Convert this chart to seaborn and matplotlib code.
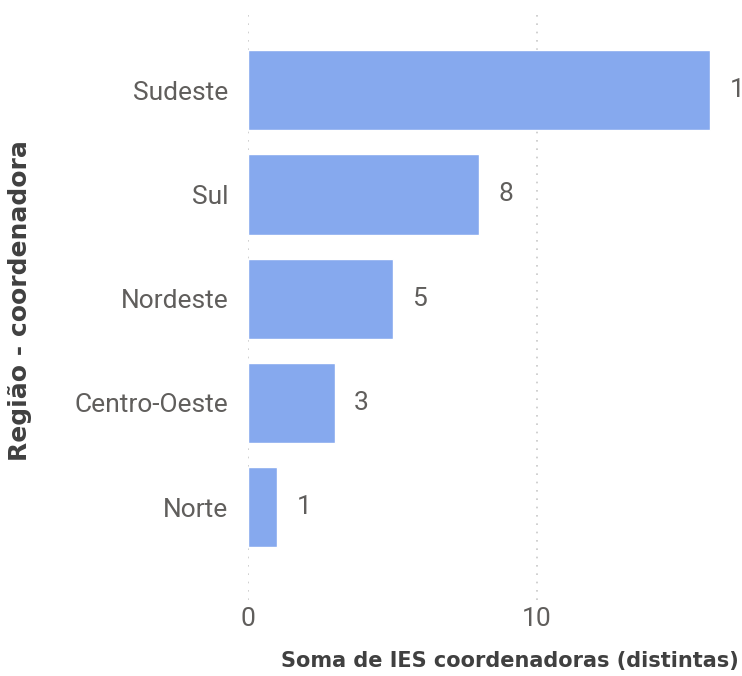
import pandas as pd
import seaborn as sns
import matplotlib.pyplot as plt

regioes = ["Sudeste", "Sul", "Nordeste", "Centro-Oeste", "Norte"]
qtd_ies = [16, 8, 5, 3, 1]

df = pd.DataFrame({"regiao": regioes, "ies": qtd_ies})

sns.set_style("white")
plt.rcParams['font.family'] = ['Roboto', 'DejaVu Sans']

fig = plt.figure(figsize=(7.42, 6.76), dpi=100)
ax = fig.add_axes([0.3342, 0.1124, 0.6658, 0.8654])

sns.barplot(x="ies", y="regiao", data=df, orient="h", color="#86A9EE",
            saturation=1, width=0.77, ax=ax)

# value labels, the last one runs off the canvas like in the source
for cont in ax.containers:
    ax.bar_label(cont, padding=14, fontsize=19, color="#605E5C")

ax.set_xlim(0, 17.09)
ax.set_ylim(4.89, -0.72)
ax.set_xticks([0, 10])
ax.xaxis.grid(True, linestyle=(0, (1, 4)), color="#C8C8C8", linewidth=1.2)
ax.yaxis.grid(False)
for s in ax.spines.values():
    s.set_visible(False)

ax.tick_params(axis='y', length=0, pad=14, labelsize=19, labelcolor="#605E5C")
ax.tick_params(axis='x', length=0, pad=5, labelsize=19, labelcolor="#605E5C")

ax.set_ylabel("")
ax.set_xlabel("")
fig.text(0.027, 0.555, "Região - coordenadora", rotation=90, ha="center", va="center",
         fontsize=18, fontweight="bold", color="#404040", family="DejaVu Sans")
fig.text(0.995, 0.008, "Soma de IES coordenadoras (distintas)", ha="right", va="bottom",
         fontsize=15, fontweight="bold", color="#404040", family="DejaVu Sans")

plt.savefig("out.png", dpi=100)
